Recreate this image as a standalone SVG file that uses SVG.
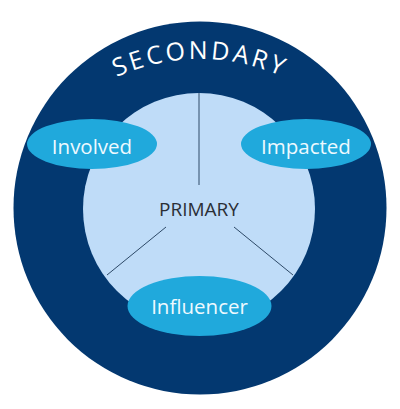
<svg xmlns="http://www.w3.org/2000/svg" width="400" height="409" viewBox="0 0 400 409">
<defs>
<style>
.lbl{font-family:"Open Sans","Liberation Sans",sans-serif;font-size:20.5px;fill:#eef9ff;text-anchor:middle}
.oval{fill:#20a9dc}
.conn{stroke:#2e4a68;stroke-width:1;fill:none}
</style>
<path id="arc" d="M 0 259 A 200 200 0 0 1 400 259"/>
</defs>
<rect width="400" height="409" fill="#ffffff"/>
<g id="secondary">
<circle cx="200" cy="208" r="186.5" fill="#033870"/>
<text font-family="'Open Sans','Liberation Sans',sans-serif" font-size="25" fill="#ffffff" letter-spacing="3"><textPath href="#arc" startOffset="50%" text-anchor="middle">SECONDARY</textPath></text>
</g>
<g id="primary">
<circle cx="199" cy="209" r="116" fill="#bfdcf8"/>
<text x="199" y="216" font-family="'Open Sans','Liberation Sans',sans-serif" font-size="19" fill="#2b2f36" text-anchor="middle">PRIMARY</text>
</g>
<g id="connectors">
<line class="conn" x1="199" y1="93" x2="199" y2="185"/>
<line class="conn" x1="166" y1="227" x2="107" y2="275"/>
<line class="conn" x1="234" y1="227" x2="293" y2="275"/>
</g>
<g id="involved">
<ellipse class="oval" cx="92" cy="144" rx="65" ry="25"/>
<text class="lbl" x="92" y="154">Involved</text>
</g>
<g id="impacted">
<ellipse class="oval" cx="306" cy="144" rx="65" ry="25"/>
<text class="lbl" x="306" y="154">Impacted</text>
</g>
<g id="influencer">
<ellipse class="oval" cx="199.5" cy="306" rx="72" ry="30"/>
<text class="lbl" x="199.5" y="314">Influencer</text>
</g>
</svg>
